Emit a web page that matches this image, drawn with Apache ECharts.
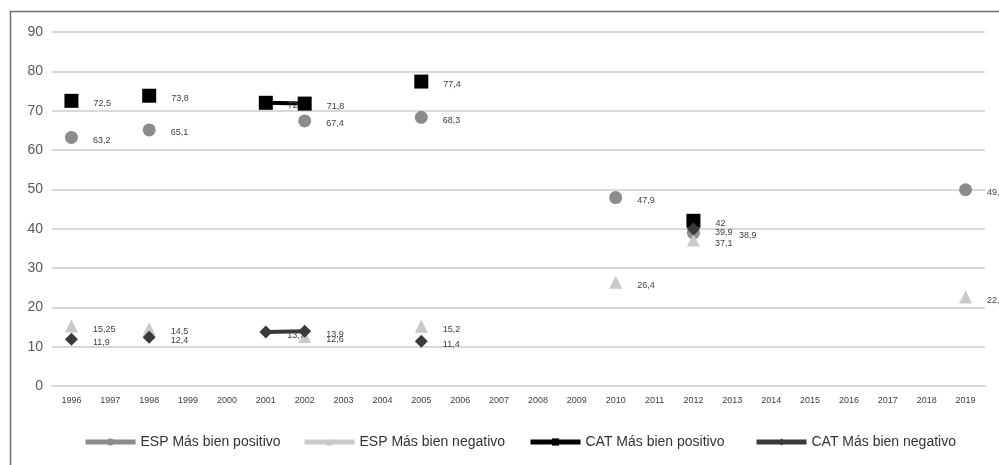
<!DOCTYPE html>
<html>
<head>
<meta charset="utf-8">
<script src="https://cdn.jsdelivr.net/npm/echarts@6/dist/echarts.min.js"></script>
<style>
html,body{margin:0;padding:0;background:#fff;}
#chart{width:999px;height:465px;}
</style>
</head>
<body>
<div id="chart"></div>
<script>
var years = ['1996','1997','1998','1999','2000','2001','2002','2003','2004','2005','2006','2007','2008','2009','2010','2011','2012','2013','2014','2015','2016','2017','2018','2019'];
var seriesNames = ['ESP Más bien positivo','ESP Más bien negativo','CAT Más bien positivo','CAT Más bien negativo'];
var espPositivo = [63.2,null,65.1,null,null,null,67.4,null,null,68.3,null,null,null,null,47.9,null,38.9,null,null,null,null,null,null,49.9];
var espNegativo = [15.25,null,14.5,null,null,null,12.6,null,null,15.2,null,null,null,null,26.4,null,37.1,null,null,null,null,null,null,22.6];
var catPositivo = [72.5,null,73.8,null,null,72,71.8,null,null,77.4,null,null,null,null,null,null,42,null,null,null,null,null,null,null];
var catNegativo = [11.9,null,12.4,null,null,13.7,13.9,null,null,11.4,null,null,null,null,null,null,39.9,null,null,null,null,null,null,null];
var yTicks = [0,10,20,30,40,50,60,70,80,90];

var FONT = "'Liberation Sans Narrow','Liberation Sans',Arial,sans-serif";
var colors = ['#8c8c8c','#c9c9c9','#000000','#3a3a3a'];
var symbols = ['circle','triangle','rect','diamond'];
var sizes = [13,13,14,13];

function fmt(p){ return String(p.value).replace('.', ','); }

function build(data, i){
  return {
    name: seriesNames[i],
    type: 'line',
    data: data.map(function(v, k){
      if (i === 0 && years[k] === '2012') {
        return {value: v, label: {offset: [24, 3]}};
      }
      return v;
    }),
    connectNulls: false,
    symbol: symbols[i],
    symbolSize: sizes[i],
    itemStyle: {color: colors[i]},
    lineStyle: {color: colors[i], width: 4},
    label: {show: true, position: 'right', distance: 15, offset: [0, 3], formatter: fmt,
            fontSize: 9, color: '#404040', fontFamily: FONT},
    emphasis: {disabled: true},
    animation: false,
    z: 2 + i
  };
}

var series = [build(espPositivo,0), build(espNegativo,1), build(catPositivo,2), build(catNegativo,3)];

var legendLefts = [78, 297, 523, 749];
var legends = seriesNames.map(function(n, i){
  return {
    data: [n], left: legendLefts[i], top: 430, itemWidth: 50, itemHeight: 9, itemGap: 4,
    lineStyle: {width: 5},
    textStyle: {fontSize: 14, color: '#333333', fontFamily: FONT},
    selectedMode: false
  };
});

var chart = echarts.init(document.getElementById('chart'), null, {renderer: 'canvas'});
chart.setOption({
  backgroundColor: '#ffffff',
  animation: false,
  grid: {left: 52, right: 14, top: 32, bottom: 79, containLabel: false},
  legend: legends,
  xAxis: {
    type: 'category', data: years, boundaryGap: true,
    axisLine: {show: true, lineStyle: {color: '#d9d9d9', width: 2}},
    axisTick: {show: false},
    axisLabel: {fontSize: 9, color: '#404040', margin: 10, interval: 0, fontFamily: FONT}
  },
  yAxis: {
    type: 'value', min: yTicks[0], max: yTicks[yTicks.length-1], interval: 10,
    axisLine: {show: false}, axisTick: {show: false},
    axisLabel: {fontSize: 14, color: '#595959', margin: 9, fontFamily: FONT},
    splitLine: {show: true, lineStyle: {color: '#d9d9d9', width: 2}}
  },
  graphic: [{
    type: 'rect', left: 8, top: 9, silent: true,
    shape: {width: 1000, height: 470},
    style: {fill: 'none', stroke: '#6f6f6f', lineWidth: 1.5},
    z: 100
  }],
  series: series
});
</script>
</body>
</html>
